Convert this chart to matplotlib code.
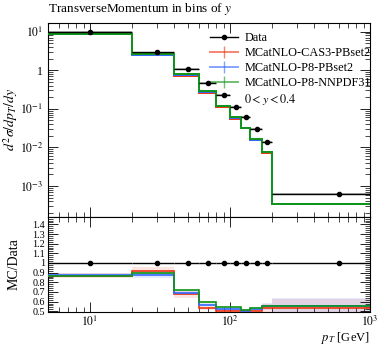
import matplotlib
matplotlib.use("Agg")
import matplotlib.pyplot as plt
import numpy as np
from matplotlib.lines import Line2D
from matplotlib.ticker import FixedLocator, FuncFormatter, MultipleLocator, NullFormatter

plt.rcParams["font.family"] = "serif"
plt.rcParams["font.serif"] = ["Liberation Serif", "DejaVu Serif"]
plt.rcParams["mathtext.fontset"] = "stix"

# bins and measured values
edges = [0, 20, 40, 60, 80, 100, 120, 140, 170, 200, 1000]
centers = [10, 30, 50, 70, 90, 110, 130, 155, 185, 600]
data = [10.0, 2.9, 1.08, 0.48, 0.225, 0.112, 0.063, 0.030, 0.0136, 0.00062]
data_relerr = [0.06, 0.05, 0.05, 0.05, 0.05, 0.05, 0.05, 0.05, 0.06, 0.08]

# MC / Data ratios
ratio_cas3 = [0.87, 0.92, 0.675, 0.53, 0.505, 0.50, 0.50, 0.505, 0.535, 0.535]
ratio_p8 = [0.875, 0.88, 0.685, 0.57, 0.525, 0.52, 0.505, 0.52, 0.55, 0.55]
ratio_nnpdf = [0.865, 0.895, 0.725, 0.60, 0.54, 0.54, 0.515, 0.535, 0.555, 0.555]
band_cas3 = [0.03, 0.035, 0.035, 0.02, 0.02, 0.02, 0.02, 0.02, 0.04, 0.09]
band_p8 = [0.02, 0.04, 0.02, 0.02, 0.02, 0.02, 0.02, 0.02, 0.04, 0.09]
band_nnpdf = [0.01, 0.01, 0.01, 0.01, 0.01, 0.01, 0.01, 0.01, 0.01, 0.01]

labels = ["MCatNLO-CAS3-PBset2", "MCatNLO-P8-PBset2", "MCatNLO-P8-NNPDF31"]
colors = ["#EE3311", "#3366FF", "#109618"]
ratios = [ratio_cas3, ratio_p8, ratio_nnpdf]
bands = [band_cas3, band_p8, band_nnpdf]

edges = np.array(edges, float)
centers = np.array(centers, float)
data = np.array(data)
xerr = [centers - edges[:-1], edges[1:] - centers]

fig = plt.figure(figsize=(3.83, 3.45), dpi=100)
ax = fig.add_axes([0.125, 0.372, 0.841, 0.562])
rax = fig.add_axes([0.125, 0.095, 0.841, 0.277], sharex=ax)

# main panel
ax.fill_between(edges, np.append(data * (1 - np.array(data_relerr)), 0),
                np.append(data * (1 + np.array(data_relerr)), 0),
                step="post", color="#bbbbbb", lw=0, zorder=1)
for r, b, c in zip(ratios, bands, colors):
    mc = data * np.array(r)
    ax.stairs(mc, edges, color=c, lw=1.4, zorder=3, baseline=None)
ax.errorbar(centers, data, xerr=xerr, yerr=data * 0.02, fmt="o", color="black",
            ms=3, lw=1.0, capsize=0, zorder=5)

ax.set_xscale("log")
ax.set_yscale("log")
ax.set_xlim(5, 1000)
ax.set_ylim(1.6e-4, 17)

def ylog_fmt(v, pos):
    e = int(round(np.log10(v)))
    if e == 0:
        return "1"
    return r"$10^{%d}$" % e

ax.yaxis.set_major_locator(FixedLocator([1e-3, 1e-2, 1e-1, 1, 10]))
ax.yaxis.set_major_formatter(FuncFormatter(ylog_fmt))
ax.yaxis.set_minor_locator(FixedLocator([m * 10.0 ** k for k in range(-4, 2) for m in range(2, 10)]))
ax.yaxis.set_minor_formatter(NullFormatter())
ax.tick_params(axis="x", labelbottom=False)
ax.set_ylabel(r"$d^2\sigma/dp_T/dy$", fontsize=10)
ax.text(0.0, 1.03, r"TransverseMomentum in bins of $y$", transform=ax.transAxes,
        fontsize=9.5, ha="left", va="bottom")

handles = [Line2D([], [], color="black", marker="o", ms=3, lw=1.0)]
for lab, c in zip(labels, colors):
    handles.append(Line2D([], [], color=c, marker="|", ms=9, lw=1.4, alpha=0.6))
handles.append(Line2D([], [], color="none"))
leg = ax.legend(handles, ["Data"] + labels + [r"$0 < y < 0.4$"], loc="upper left",
                bbox_to_anchor=(0.488, 0.978), frameon=False, fontsize=8.8,
                handlelength=2.3, handletextpad=0.5, labelspacing=0.25,
                borderaxespad=0)

# ratio panel
for r, b, c in zip(ratios, bands, colors):
    r = np.array(r)
    b = np.array(b)
    rax.fill_between(edges, np.append(r - b, r[-1] - b[-1]), np.append(r + b, r[-1] + b[-1]),
                     step="post", color=c, alpha=0.13, lw=0, zorder=1)
for r, c in zip(ratios, colors):
    rax.stairs(r, edges, color=c, lw=1.2, zorder=3, baseline=None)
rax.errorbar(centers, np.ones_like(centers), xerr=xerr, yerr=0.01, fmt="o",
             color="black", ms=3, lw=1.0, capsize=0, zorder=5)

rax.set_ylim(0.49, 1.48)
rax.yaxis.set_major_locator(FixedLocator(np.round(np.arange(0.5, 1.45, 0.1), 1)))
rax.yaxis.set_major_formatter(FuncFormatter(lambda v, p: "1" if abs(v - 1) < 1e-6 else "%.1f" % v))
rax.yaxis.set_minor_locator(MultipleLocator(0.02))
rax.xaxis.set_major_locator(FixedLocator([10, 100, 1000]))
rax.xaxis.set_major_formatter(FuncFormatter(lambda v, p: r"$10^{%d}$" % int(round(np.log10(v)))))
rax.xaxis.set_minor_locator(FixedLocator([m * 10.0 ** k for k in range(0, 3) for m in range(2, 10)]))
rax.xaxis.set_minor_formatter(NullFormatter())
rax.set_ylabel("MC/Data", fontsize=10)
rax.set_xlabel(r"$p_T$ [GeV]", fontsize=9, ha="right")

for a in (ax, rax):
    a.tick_params(which="both", direction="in", top=True, right=True, labelsize=8.5)
    a.tick_params(which="major", length=7, width=0.6)
    a.tick_params(which="minor", length=3.5, width=0.5)
    for s in a.spines.values():
        s.set_linewidth(0.8)
rax.tick_params(axis="y", labelsize=7.3, pad=2)
rax.tick_params(axis="x", pad=2)
ax.yaxis.set_label_coords(-0.085, 0.5)
rax.yaxis.set_label_coords(-0.085, 0.5)
rax.xaxis.set_label_coords(1.0, -0.185)

fig.savefig("out.png", dpi=100)
